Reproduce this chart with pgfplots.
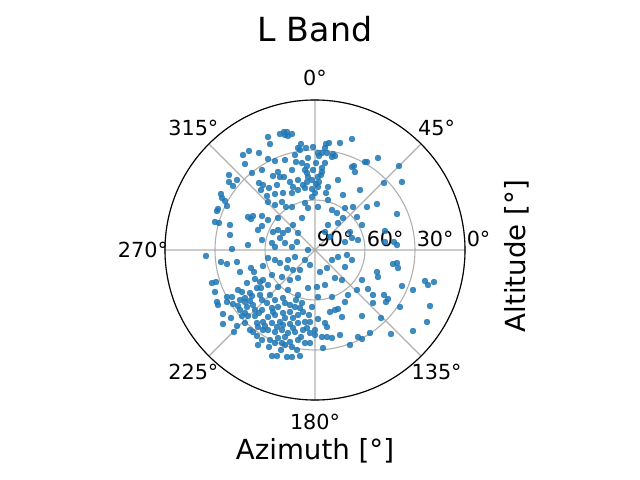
\documentclass[border=0pt]{standalone}
\usepackage{fontspec}
\setmainfont{DejaVu Sans}
\usepackage{pgfplots}
\pgfplotsset{compat=1.18}
\usepackage{pgfplotstable}
\usepgfplotslibrary{polar}

\definecolor{tabblue}{HTML}{1F77B4}
\definecolor{gridgray}{HTML}{B0B0B0}
\tikzset{
  tick lab/.style={font=\fontsize{15}{18}\selectfont, anchor=center, inner sep=0pt},
  r lab/.style={font=\fontsize{15}{18}\selectfont, anchor=south west, inner sep=0pt, xshift=0.015in, yshift=0.03in},
}

% satellite positions, east/north offsets in degrees of zenith distance (90 - altitude)
\pgfplotstableread{
e n
-43.2 57.0
-39.6 59.4
-33.6 58.2
-42.0 51.6
-37.8 46.2
-51.6 45.0
-51.6 40.8
-46.8 42.0
-49.2 38.4
-33.6 40.2
-31.2 39.0
-32.4 36.0
-56.4 33.6
-55.8 31.2
-28.2 67.8
-27.0 63.6
-21.0 69.6
-18.6 70.8
-16.8 70.8
-16.2 68.4
-13.8 69.6
-18.0 69.0
-8.4 63.6
-10.2 61.2
-9.0 60.0
-5.4 61.2
6.6 63.6
8.4 64.2
6.0 61.2
15.0 64.2
22.2 66.6
-28.2 54.6
-24.0 53.4
-11.4 52.8
-7.8 52.2
-4.8 50.4
1.8 58.2
4.2 58.2
2.4 56.4
7.2 58.2
10.8 57.6
12.0 56.4
10.2 55.8
-6.0 48.0
-4.8 46.2
-4.2 43.8
4.2 49.2
4.2 46.8
3.6 45.0
1.8 43.8
2.4 40.8
-1.8 42.0
-4.8 40.8
-7.2 39.0
-10.2 42.0
-6.0 37.2
-1.8 36.6
1.8 37.8
-22.2 46.8
-21.0 43.8
-18.6 43.8
-22.8 39.0
-27.6 37.2
-15.0 40.8
22.2 49.8
24.0 46.8
23.4 50.4
30.0 52.8
13.8 42.0
7.8 37.8
6.6 34.2
0.0 34.2
-10.2 36.0
-13.8 34.2
-19.2 34.2
-24.0 33.6
-28.8 32.4
-1.8 31.8
31.2 52.8
37.8 55.2
50.4 50.4
41.4 40.2
52.2 40.8
-58.2 24.6
-58.8 23.4
-52.8 26.4
-54.0 29.4
-40.2 19.8
-37.2 20.4
-38.4 18.6
-31.8 20.4
-60.0 16.8
-57.6 16.2
-51.0 15.0
-34.2 12.0
-31.8 14.4
-51.0 9.0
-31.8 6.0
-40.2 3.0
-49.8 0.6
-65.4 -3.6
-56.4 -7.2
-52.8 -8.4
-46.8 -7.2
-38.4 -10.8
-36.6 -13.2
-45.0 -13.2
-31.2 -9.6
-36.0 -17.4
-33.0 -19.2
-31.2 -18.0
-61.8 -19.8
-59.4 -19.2
-40.8 -19.8
-60.0 -25.2
-46.2 -24.0
-43.8 -25.2
-39.0 -25.8
-37.8 -27.6
-34.8 -22.8
-32.4 -22.8
-49.8 -28.2
-52.8 -28.2
-42.0 -28.8
-28.2 28.8
-24.0 27.0
-19.8 28.8
-17.4 25.8
-13.8 25.8
-6.0 28.2
-4.2 25.2
1.8 25.8
10.2 24.0
13.2 22.2
18.0 25.2
22.8 25.8
25.2 19.8
28.2 15.0
16.8 19.2
13.8 16.2
7.8 15.0
6.0 10.8
9.0 7.8
21.0 10.8
22.2 7.2
25.8 6.0
18.0 4.8
-22.2 19.2
-28.2 18.0
-25.2 10.8
-22.2 12.0
-19.2 10.2
-16.2 12.0
-13.2 15.0
-7.8 19.2
-10.2 10.2
-21.0 7.2
-25.8 4.2
-24.0 1.8
-18.0 4.2
-13.8 1.8
-10.8 4.8
-4.2 0.0
-28.2 -4.8
-24.0 -6.0
-21.0 -7.8
-16.2 -6.0
-12.0 -4.2
-16.8 -10.8
-13.2 -12.0
-9.0 -12.0
-6.0 -6.0
-3.0 -9.0
3.0 -13.2
7.2 -10.8
10.2 -6.0
13.8 -4.2
19.2 -3.0
22.2 -6.0
18.0 -10.2
12.0 -16.8
16.2 -18.0
6.0 -21.0
1.2 -22.2
-4.2 -22.8
-10.2 -16.8
-15.0 -18.0
-19.8 -16.2
-25.8 -15.0
-28.2 -21.0
-22.2 -22.2
-16.2 -24.0
-10.2 -27.0
1.8 -28.2
10.2 -28.2
19.8 -27.0
25.2 -24.0
28.2 -18.0
31.2 25.8
37.2 27.6
49.2 21.6
42.0 11.4
42.0 4.8
47.4 4.8
49.2 3.0
46.8 -8.4
49.2 -7.8
49.8 -10.8
37.2 -13.2
37.8 -16.2
66.0 -18.6
67.8 -21.0
71.4 -19.2
52.2 -21.6
58.8 -24.0
31.8 -23.4
34.8 -27.0
41.4 -27.0
43.8 -29.4
-58.8 -31.2
-58.2 -33.0
-52.8 -31.2
-49.2 -32.4
-46.2 -33.6
-42.0 -31.2
-39.0 -30.6
-55.2 -38.4
-55.2 -44.4
-50.4 -40.8
-43.8 -39.6
-40.2 -39.6
-36.0 -39.6
-33.6 -37.8
-31.8 -36.0
-34.8 -43.8
-34.2 -46.2
-31.2 -43.2
-31.2 -48.0
-48.6 -49.2
-37.2 -49.2
-34.8 -51.6
-28.8 -31.8
-25.8 -34.8
-22.2 -34.2
-15.0 -33.0
-12.0 -34.2
-7.8 -31.8
-1.8 -34.2
-15.0 -37.2
-19.2 -37.8
-24.0 -39.0
-28.2 -40.2
-10.2 -39.0
-25.8 -43.8
-21.0 -43.2
-15.0 -44.4
-10.2 -43.8
-6.0 -43.2
-3.0 -43.2
-28.2 -48.0
-24.0 -49.2
-19.8 -48.0
-16.2 -49.8
-12.0 -49.2
-7.2 -48.0
-3.0 -49.8
0.0 -48.0
0.0 -51.0
-27.0 -54.0
-22.2 -52.8
-18.0 -52.2
-15.0 -55.2
-10.2 -54.0
-6.0 -55.8
-3.0 -55.8
-13.8 -58.2
-10.8 -60.0
-18.0 -57.0
-24.0 -55.8
-25.8 -63.6
-22.8 -63.6
-16.8 -64.2
-13.8 -64.2
4.8 -58.8
1.8 -41.4
6.0 -43.8
7.2 -46.2
9.0 -37.2
12.0 -36.0
13.8 -35.4
16.2 -40.2
18.0 -31.2
28.2 -39.6
15.0 -51.0
4.2 -52.2
7.2 -52.2
10.2 -52.8
25.8 -52.2
28.2 -53.4
21.0 -57.0
34.8 -31.8
42.6 -31.2
51.0 -34.2
69.0 -33.6
67.2 -43.2
39.6 -40.8
58.8 -48.6
45.6 -50.4
33.0 -49.8
-45.0 -30.0
-40.8 -34.2
-37.2 -33.0
-31.8 -30.0
-24.0 -30.0
-19.2 -28.8
-11.4 -30.0
-31.8 -54.0
-20.4 -60.0
-9.0 -63.6
-42.0 -43.8
-39.0 -48.0
-19.2 -45.0
-7.2 -37.2
-3.6 -39.0
-18.0 -40.8
-13.2 -40.8
-34.2 -57.0
-1.2 48.0
0.6 52.2
-13.8 48.0
-18.0 54.0
-31.8 48.0
7.8 30.0
16.8 33.0
27.0 36.0
-36.0 -36.0
-27.0 -27.0
-45.0 -36.0
-42.0 -37.8
-30.0 -45.6
-22.8 -46.2
-13.2 -46.8
-8.4 -52.2
-4.8 -46.8
-27.6 -58.2
-19.8 -55.8
-46.8 -45.6
-25.2 -37.2
-18.0 -31.8
-9.0 -34.8
-33.0 -27.0
-4.2 55.2
-1.2 61.8
-12.0 57.0
-25.2 44.4
0.6 39.6
6.0 52.2
-13.2 37.8
}\satpos

\begin{document}
\begin{tikzpicture}
\path[use as bounding box] (-3.15in,-2.30in) rectangle (3.25in,2.50in);
\begin{polaraxis}[
  at={(0,0)}, anchor=center,
  scale only axis, width=3in, height=3in,
  ymin=0, ymax=90,
  xtick={0,45,...,315}, ytick={0,30,60,90},
  xticklabels={}, yticklabels={},
  major tick length=0pt,
  grid=major,
  major grid style={draw=gridgray, line width=0.8pt},
  x axis line style={black, line width=0.8pt},
  y axis line style={draw=none},
  clip=false,
]
\addplot[only marks, mark=*, mark size=2.1pt, color=tabblue,
  mark options={fill=tabblue, fill opacity=0.85, draw opacity=0.85},
  data cs=cart] table[x=e, y=n] {\satpos};
% azimuth labels (compass direction, clockwise from north)
\node[tick lab] at (axis cs:90,103.2) {0°};
\node[tick lab] at (axis cs:45,103.2) {45°};
\node[tick lab] at (axis cs:315,103.2) {135°};
\node[tick lab] at (axis cs:270,103.2) {180°};
\node[tick lab] at (axis cs:225,103.2) {225°};
\node[tick lab] at (axis cs:180,103.2) {270°};
\node[tick lab] at (axis cs:135,103.2) {315°};
% altitude labels
\node[r lab] at (axis cs:0,0) {90°};
\node[r lab] at (axis cs:0,30) {60°};
\node[r lab] at (axis cs:0,60) {30°};
\node[r lab] at (axis cs:0,90) {0°};
\end{polaraxis}
\node[anchor=base, font=\fontsize{24}{28}\selectfont] at (0,2.083in) {L Band};
\node[anchor=base, font=\fontsize{20}{24}\selectfont] at (0,-2.09in) {Azimuth [°]};
\node[anchor=base, rotate=90, font=\fontsize{20}{24}\selectfont] at (2.10in,-0.06in) {Altitude [°]};
\end{tikzpicture}
\end{document}
